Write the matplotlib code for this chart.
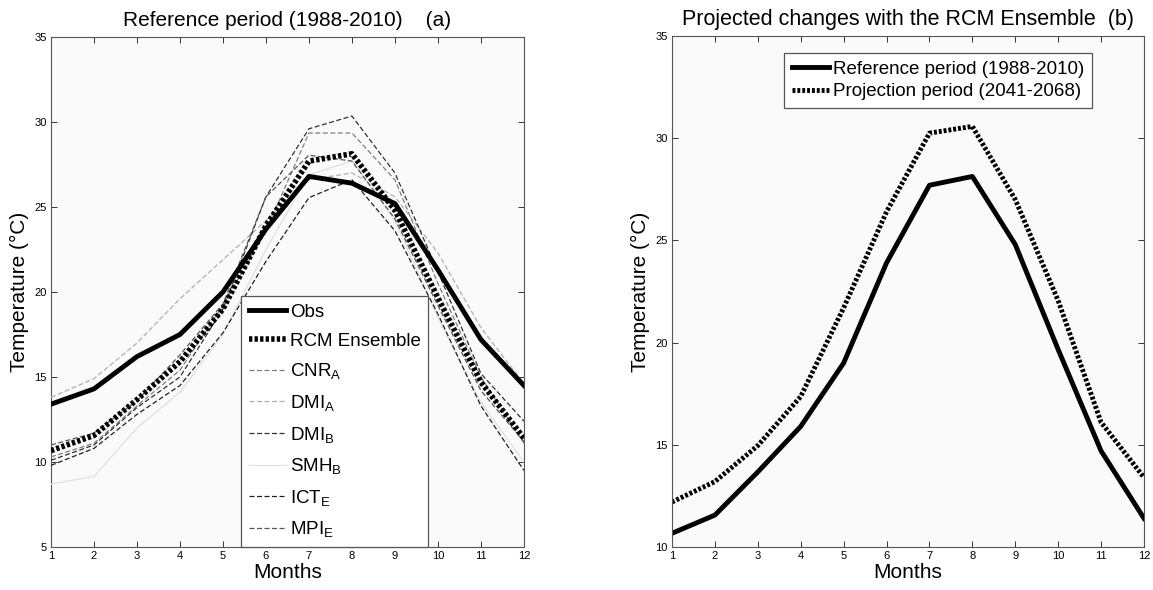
import matplotlib
matplotlib.use("Agg")
import matplotlib.pyplot as plt

plt.rcParams['font.family'] = ['Liberation Sans', 'DejaVu Sans']
plt.rcParams['mathtext.fontset'] = 'custom'
plt.rcParams['mathtext.rm'] = 'Liberation Sans'
plt.rcParams['mathtext.it'] = 'Liberation Sans'
plt.rcParams['mathtext.default'] = 'regular'

months = list(range(1, 13))

# panel (a): observed and simulated monthly mean temperature, 1988-2010
obs = [13.4, 14.3, 16.2, 17.5, 20.0, 23.7, 26.8, 26.4, 25.2, 21.3, 17.2, 14.5]
ensemble = [10.67, 11.56, 13.67, 15.9, 19.0, 23.9, 27.7, 28.13, 24.8, 19.66, 14.7, 11.4]
cnr_a = [10.3, 11.1, 13.3, 15.4, 19.2, 23.6, 29.35, 29.35, 26.6, 20.5, 15.0, 11.1]
dmi_a = [13.8, 14.9, 17.0, 19.6, 21.9, 24.2, 26.6, 27.0, 25.6, 22.3, 17.9, 14.6]
dmi_b = [10.1, 11.0, 13.2, 15.0, 19.0, 25.6, 29.6, 30.35, 27.0, 21.2, 15.2, 12.4]
smh_b = [8.7, 9.15, 12.0, 14.1, 17.5, 22.5, 26.9, 27.7, 24.2, 18.5, 13.5, 10.0]
ict_e = [9.8, 10.8, 12.8, 14.5, 17.6, 21.8, 25.55, 26.6, 23.6, 18.7, 13.3, 9.5]
mpi_e = [11.0, 11.7, 13.6, 16.3, 19.3, 25.6, 28.05, 27.7, 24.3, 19.2, 14.2, 11.2]

# panel (b): ensemble reference vs projection
reference = [10.67, 11.56, 13.67, 15.9, 19.0, 23.9, 27.7, 28.13, 24.8, 19.66, 14.7, 11.4]
projection = [12.2, 13.2, 14.96, 17.36, 21.7, 26.4, 30.25, 30.58, 27.0, 22.05, 16.1, 13.4]

models = [
    ("CNR$_A$", cnr_a, "#808080", (0, (4, 2))),
    ("DMI$_A$", dmi_a, "#b0b0b0", (0, (4, 2))),
    ("DMI$_B$", dmi_b, "#303030", (0, (4, 2))),
    ("SMH$_B$", smh_b, "#e0e0e0", "-"),
    ("ICT$_E$", ict_e, "#202020", (0, (4, 2))),
    ("MPI$_E$", mpi_e, "#555555", (0, (4, 2))),
]

fig = plt.figure(figsize=(11.53, 5.90), dpi=100)
ax1 = fig.add_axes([0.0442, 0.0729, 0.4102, 0.8644])
ax2 = fig.add_axes([0.5828, 0.0729, 0.4094, 0.8660])

dotted = (0, (0.6, 0.4))

ax1.plot(months, obs, color="black", lw=3.5, label="Obs", zorder=5)
ax1.plot(months, ensemble, color="black", lw=4, ls=dotted, label="RCM Ensemble", zorder=4)
for name, vals, col, ls in models:
    ax1.plot(months, vals, color=col, lw=0.9, ls=ls, label=name, zorder=3)

ax2.plot(months, reference, color="black", lw=3.5, label="Reference period (1988-2010)")
ax2.plot(months, projection, color="black", lw=3.5, ls=dotted, label="Projection period (2041-2068)")

for ax, ylo in ((ax1, 5), (ax2, 10)):
    ax.set_facecolor("#fafafa")
    ax.set_xlim(1, 12)
    ax.set_ylim(ylo, 35)
    ax.set_xticks(months)
    ax.set_yticks(range(ylo, 36, 5))
    ax.tick_params(direction="in", top=True, right=True, length=4, width=0.7,
                   labelsize=8, pad=3, colors="#333333", labelcolor="black")
    for sp in ax.spines.values():
        sp.set_color("#555555")
        sp.set_linewidth(0.8)
    ax.set_xlabel("Months", fontsize=15, labelpad=1)
    ax.set_ylabel("Temperature (°C)", fontsize=15, labelpad=4)

ax1.set_title("Reference period (1988-2010)    (a)", fontsize=15, pad=8)
ax2.set_title("Projected changes with the RCM Ensemble  (b)", fontsize=15.5, pad=8)

leg1 = ax1.legend(loc="lower left", bbox_to_anchor=(0.402, 0.0), borderaxespad=0,
                  fontsize=13.5, fancybox=False, framealpha=1, edgecolor="#555555",
                  handlelength=2.0, handletextpad=0.2, labelspacing=0.62,
                  borderpad=0.4)
leg1.get_frame().set_linewidth(0.9)

leg2 = ax2.legend(loc="upper right", bbox_to_anchor=(0.889, 0.967), borderaxespad=0,
                  fontsize=13.5, fancybox=False, framealpha=1, edgecolor="#555555",
                  handlelength=2.0, handletextpad=0.2, labelspacing=0.3,
                  borderpad=0.4)
leg2.get_frame().set_linewidth(0.9)

fig.savefig("out.png", dpi=100)
